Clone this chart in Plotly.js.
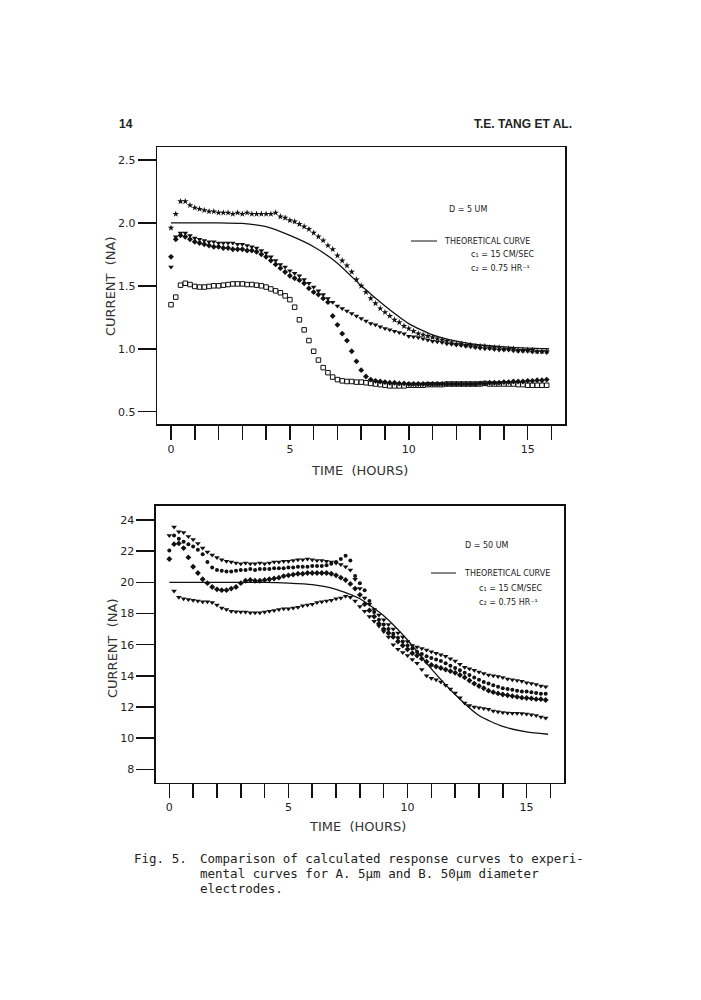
<!DOCTYPE html>
<html>
<head>
<meta charset="utf-8">
<script src="https://cdn.plot.ly/plotly-3.0.1.min.js"></script>
<style>html,body{margin:0;padding:0;background:#fff;}#chart{width:701px;height:1000px;}</style>
</head>
<body>
<div id="chart"></div>
<script>
// ---------- DATA ----------
// sampling times (hours)
var T = [0,0.2,0.4,0.6,0.8,1.0,1.2,1.4,1.6,1.8,
 2.0,2.2,2.4,2.6,2.8,3.0,3.2,3.4,3.6,3.8,
 4.0,4.2,4.4,4.6,4.8,5.0,5.2,5.4,5.6,5.8,
 6.0,6.2,6.4,6.6,6.8,7.0,7.2,7.4,7.6,7.8,
 8.0,8.2,8.4,8.6,8.8,9.0,9.2,9.4,9.6,9.8,
 10.0,10.2,10.4,10.6,10.8,11.0,11.2,11.4,11.6,11.8,
 12.0,12.2,12.4,12.6,12.8,13.0,13.2,13.4,13.6,13.8,
 14.0,14.2,14.4,14.6,14.8,15.0,15.2,15.4,15.6,15.8];

// A. D = 5 um  (current, nA)
var topStars = [1.96,2.07,2.17,2.17,2.14,2.12,2.11,2.10,2.09,2.09,
 2.08,2.08,2.08,2.07,2.08,2.07,2.08,2.07,2.07,2.07,
 2.07,2.07,2.08,2.05,2.04,2.02,2.01,1.99,1.97,1.95,
 1.92,1.89,1.86,1.82,1.79,1.74,1.70,1.66,1.61,1.55,
 1.50,1.45,1.40,1.36,1.32,1.29,1.26,1.23,1.21,1.18,
 1.16,1.14,1.12,1.11,1.10,1.09,1.08,1.07,1.06,1.05,
 1.04,1.04,1.03,1.03,1.02,1.02,1.02,1.01,1.01,1.01,
 1.00,1.00,1.00,0.99,0.99,0.99,0.99,0.98,0.98,0.98];
var topTri = [1.65,1.89,1.92,1.92,1.90,1.88,1.87,1.86,1.85,1.85,
 1.84,1.84,1.84,1.84,1.83,1.83,1.82,1.81,1.80,1.78,
 1.76,1.73,1.70,1.67,1.65,1.62,1.60,1.58,1.55,1.52,
 1.49,1.46,1.43,1.40,1.37,1.34,1.32,1.30,1.28,1.26,
 1.24,1.22,1.20,1.19,1.175,1.16,1.15,1.14,1.13,1.12,
 1.10,1.095,1.09,1.08,1.07,1.06,1.055,1.05,1.04,1.035,
 1.03,1.025,1.02,1.015,1.01,1.005,1.00,1.00,0.995,0.99,
 0.99,0.99,0.985,0.98,0.98,0.98,0.975,0.975,0.975,0.97];
var topDots = [1.73,1.87,1.90,1.89,1.87,1.85,1.84,1.83,1.82,1.81,
 1.81,1.80,1.80,1.79,1.79,1.79,1.78,1.78,1.77,1.75,
 1.73,1.70,1.67,1.64,1.61,1.58,1.56,1.545,1.52,1.48,
 1.45,1.43,1.40,1.37,1.26,1.19,1.12,1.065,0.98,0.90,
 0.83,0.78,0.755,0.745,0.74,0.735,0.73,0.73,0.725,0.725,
 0.72,0.72,0.72,0.72,0.72,0.72,0.72,0.72,0.72,0.72,
 0.72,0.72,0.72,0.72,0.72,0.725,0.725,0.73,0.73,0.73,
 0.735,0.735,0.74,0.74,0.74,0.745,0.745,0.75,0.75,0.755];
var topSq = [1.35,1.41,1.505,1.52,1.51,1.495,1.49,1.49,1.495,1.50,
 1.50,1.505,1.51,1.515,1.515,1.515,1.51,1.51,1.505,1.50,
 1.49,1.475,1.46,1.445,1.42,1.39,1.33,1.23,1.15,1.065,
 0.98,0.91,0.85,0.81,0.775,0.755,0.745,0.74,0.74,0.735,
 0.735,0.73,0.725,0.72,0.715,0.71,0.705,0.705,0.705,0.705,
 0.71,0.71,0.71,0.71,0.715,0.715,0.715,0.715,0.72,0.72,
 0.72,0.72,0.72,0.72,0.72,0.72,0.725,0.72,0.72,0.72,
 0.72,0.72,0.72,0.715,0.715,0.71,0.71,0.71,0.71,0.71];
// theoretical curves
var theoT = [0,1,2,3,4,5,6,7,8,9,10,11,12,13,14,15,15.9];
var theoTop = [2.0,2.0,2.0,1.995,1.97,1.90,1.81,1.68,1.50,1.34,1.20,1.11,1.06,1.03,1.015,1.005,1.0];
var theoBot = [20,20,20,20,20,19.95,19.85,19.55,18.95,17.85,16.3,14.45,12.8,11.45,10.75,10.4,10.25];

// B. D = 50 um (current, nA)
var botB1 = [23.0,23.55,23.25,23.2,22.95,22.75,22.5,22.2,21.95,21.75,
 21.6,21.45,21.35,21.3,21.25,21.2,21.25,21.2,21.2,21.25,
 21.2,21.25,21.3,21.3,21.35,21.35,21.4,21.45,21.45,21.5,
 21.45,21.4,21.4,21.35,21.3,21.25,21.15,21.0,20.8,20.2,
 19.6,19.0,18.6,18.25,17.9,17.6,17.3,17.0,16.75,16.5,
 16.2,15.95,15.85,15.75,15.65,15.55,15.45,15.35,15.25,15.1,
 14.95,14.75,14.55,14.45,14.35,14.25,14.15,14.05,14.0,13.95,
 13.9,13.8,13.75,13.7,13.65,13.55,13.5,13.45,13.35,13.3];
var botB2 = [22.05,23.0,22.8,22.6,22.45,22.3,22.1,21.8,21.3,20.95,
 20.8,20.75,20.7,20.7,20.75,20.8,20.8,20.85,20.8,20.85,
 20.85,20.85,20.9,20.9,20.9,20.95,20.95,21.0,21.0,21.0,
 21.05,21.05,21.05,21.1,21.2,21.3,21.5,21.7,21.4,20.4,
 19.95,19.5,18.8,18.1,17.6,17.3,17.0,16.7,16.45,16.2,
 15.95,15.75,15.55,15.4,15.25,15.15,15.05,14.95,14.8,14.65,
 14.5,14.35,14.2,14.05,13.9,13.75,13.6,13.5,13.4,13.3,
 13.2,13.15,13.1,13.05,13.0,13.0,12.95,12.9,12.85,12.85];
var botB3 = [21.5,22.45,22.5,22.2,21.6,21.0,20.6,20.2,19.95,19.7,
 19.55,19.5,19.5,19.6,19.7,19.95,20.1,20.15,20.1,20.1,
 20.15,20.2,20.25,20.3,20.4,20.45,20.5,20.55,20.55,20.6,
 20.6,20.6,20.6,20.6,20.55,20.45,20.3,20.15,19.9,19.6,
 19.2,18.6,18.2,17.8,17.35,17.0,16.75,16.5,16.2,15.95,
 15.7,15.45,15.3,15.1,14.9,14.7,14.6,14.5,14.4,14.3,
 14.2,14.05,13.9,13.7,13.5,13.35,13.2,13.05,12.95,12.87,
 12.8,12.75,12.7,12.65,12.6,12.58,12.55,12.5,12.5,12.45];
var botB4 = [null,19.45,19.05,18.95,18.9,18.85,18.8,18.75,18.75,18.7,
 18.55,18.35,18.25,18.15,18.12,18.1,18.1,18.05,18.05,18.05,
 18.1,18.15,18.2,18.25,18.3,18.3,18.35,18.4,18.5,18.55,
 18.6,18.7,18.75,18.8,18.85,18.95,19.0,19.1,19.05,18.8,
 18.45,18.15,17.8,17.5,17.2,16.85,16.5,16.0,15.7,15.5,
 15.3,15.05,14.8,14.4,14.0,13.85,13.75,13.6,13.4,13.15,
 12.9,12.6,12.25,12.1,12.0,11.95,11.9,11.85,11.75,11.7,
 11.65,11.62,11.6,11.6,11.58,11.55,11.5,11.45,11.35,11.3];

// tick labels
var xTickVals = [0,5,10,15];
var xTickText = ['0','5','10','15'];
var yTopVals = [0.5,1.0,1.5,2.0,2.5];
var yTopText = ['0.5','1.0','1.5','2.0','2.5'];
var yBotVals = [8,10,12,14,16,18,20,22,24];
var yBotText = ['8','10','12','14','16','18','20','22','24'];

// ---------- DRAW ----------
var K = '#111';
function px(x){return x/701;}
function py(y){return 1-y/1000;}
function pts(y, sym, size, xa, ya, open){
  return {x:T, y:y, type:'scatter', mode:'markers', xaxis:xa, yaxis:ya, hoverinfo:'skip',
    marker:{symbol:sym, size:size, color:K, line:{color:K, width: open?1:0}}};
}
function theo(y, xa, ya){
  return {x:theoT, y:y, type:'scatter', mode:'lines', xaxis:xa, yaxis:ya, hoverinfo:'skip',
    line:{color:K, width:1.3, shape:'spline', smoothing:0.6}};
}
var data = [
  theo(theoTop,'x','y'),
  pts(topStars,'star',5,'x','y'),
  pts(topTri,'triangle-down',5,'x','y'),
  pts(topDots,'diamond',4.5,'x','y'),
  pts(topSq,'square-open',4.5,'x','y',true),
  theo(theoBot,'x2','y2'),
  pts(botB1,'triangle-down',5,'x2','y2'),
  pts(botB2,'circle',4,'x2','y2'),
  pts(botB3,'diamond',4.5,'x2','y2'),
  pts(botB4,'triangle-down',5,'x2','y2')
];

var tickFont = {family:'DejaVu Sans, sans-serif', size:11, color:'#222'};
function xax(dom, range, anchor){
  return {domain:dom, range:range, anchor:anchor, tickmode:'array', tickvals:xTickVals, ticktext:xTickText,
    ticks:'outside', ticklen:14, tickwidth:1.5, tickcolor:K,
    minor:{tickmode:'linear', tick0:0, dtick:1, ticks:'outside', ticklen:14, tickwidth:1.5, tickcolor:K, showgrid:false},
    showline:true, linewidth:1.5, linecolor:K,
    mirror:true, showgrid:false, zeroline:false, tickfont:tickFont, fixedrange:true};
}
function yax(dom, range, anchor, vals, text){
  return {domain:dom, range:range, anchor:anchor, tickmode:'array', tickvals:vals, ticktext:text,
    ticks:'outside', ticklen:18, tickwidth:1.5, tickcolor:K, showline:true, linewidth:1.5, linecolor:K,
    mirror:true, showgrid:false, zeroline:false, tickfont:tickFont, fixedrange:true};
}
var lf = {family:'DejaVu Sans, sans-serif', size:8, color:'#222'};
var tf = {family:'DejaVu Sans, sans-serif', size:13, color:'#333'};
var mono = {family:'DejaVu Sans Mono, monospace', size:12.5, color:'#222'};
function ann(text, x, y, font, xanchor, extra){
  var a = {text:text, x:px(x), y:py(y), xref:'paper', yref:'paper', showarrow:false,
    xanchor:xanchor||'left', yanchor:'middle', font:font};
  if(extra){for(var k in extra){a[k]=extra[k];}}
  return a;
}
var annotations = [
  ann('<b>14</b>', 117, 124, {family:'Liberation Sans, Arial, sans-serif', size:12, color:'#222'}, 'left'),
  ann('<b>T.E. TANG ET AL.</b>', 574, 124, {family:'Liberation Sans, Arial, sans-serif', size:12, color:'#222'}, 'right'),
  // top panel texts
  ann('D = 5 UM', 447, 210, lf),
  ann('THEORETICAL CURVE', 442, 241, lf),
  ann('c\u2081 = 15 CM/SEC', 469, 254, lf),
  ann('c\u2082 = 0.75 HR\u207b\u00b9', 469, 268, lf),
  ann('TIME  (HOURS)', 359, 470, tf, 'center'),
  ann('CURRENT  (NA)', 110, 286, tf, 'center', {textangle:-90}),
  // bottom panel texts
  ann('D = 50 UM', 463, 545, lf),
  ann('THEORETICAL CURVE', 462, 573, lf),
  ann('c\u2081 = 15 CM/SEC', 477, 588, lf),
  ann('c\u2082 = 0.75 HR\u207b\u00b9', 477, 602, lf),
  ann('TIME  (HOURS)', 357, 826, tf, 'center'),
  ann('CURRENT  (NA)', 112, 648, tf, 'center', {textangle:-90}),
  // caption
  ann('Fig. 5.', 132, 858, mono),
  ann('Comparison of calculated response curves to experi-', 198, 858, mono),
  ann('mental curves for A. 5\u00b5m and B. 50\u00b5m diameter', 198, 873, mono),
  ann('electrodes.', 198, 888, mono)
];
var shapes = [
  {type:'line', xref:'paper', yref:'paper', x0:px(411), x1:px(437), y0:py(241), y1:py(241), line:{color:K, width:1}},
  {type:'line', xref:'paper', yref:'paper', x0:px(431), x1:px(456), y0:py(573), y1:py(573), line:{color:K, width:1}}
];
var layout = {
  width:701, height:1000, margin:{l:0, r:0, t:0, b:0}, paper_bgcolor:'#fff', plot_bgcolor:'#fff',
  showlegend:false,
  xaxis: xax([0.2244, 0.8060], [-0.576, 16.57], 'y'),
  yaxis: yax([0.5757, 0.8527], [0.4, 2.6], 'x', yTopVals, yTopText),
  xaxis2: xax([0.2225, 0.8046], [-0.56, 16.57], 'y2'),
  yaxis2: yax([0.2173, 0.4943], [7.14, 24.92], 'x2', yBotVals, yBotText),
  annotations: annotations,
  shapes: shapes
};
Plotly.newPlot('chart', data, layout, {staticPlot:true, displayModeBar:false});
</script>
</body>
</html>
